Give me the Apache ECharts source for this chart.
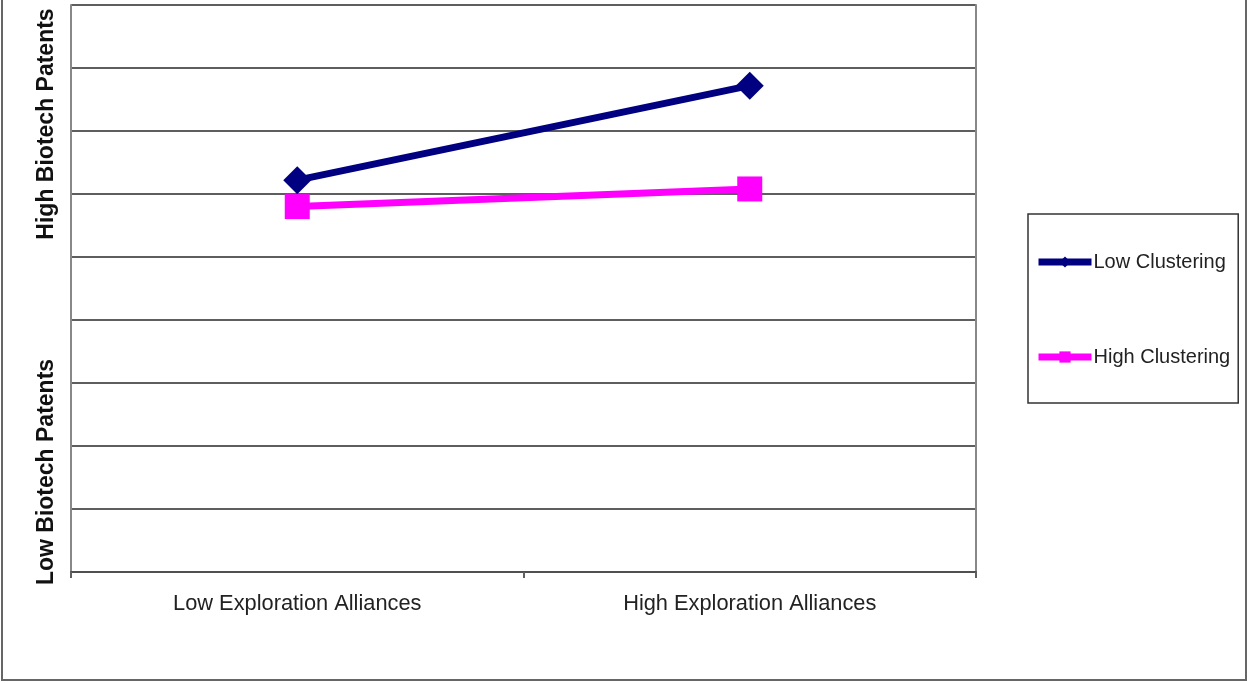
<!DOCTYPE html>
<html>
<head>
<meta charset="utf-8">
<script src="https://cdn.jsdelivr.net/npm/echarts@6/dist/echarts.min.js"></script>
<style>
html,body{margin:0;padding:0;background:#fff;}
#chart{width:1247px;height:683px;}
</style>
</head>
<body>
<div id="chart"></div>
<script>
const categories = ['Low Exploration Alliances', 'High Exploration Alliances'];
const seriesNames = ['Low Clustering', 'High Clustering'];
const lowClustering = [6.22, 7.72];
const highClustering = [5.80, 6.08];
const yAxisNames = ['High Biotech Patents', 'Low Biotech Patents'];

const chart = echarts.init(document.getElementById('chart'));
const FONT = '"Liberation Sans", Arial, sans-serif';

chart.setOption({
  animation: false,
  backgroundColor: '#fff',
  grid: { left: 71, top: 5, right: 271, bottom: 111, containLabel: false },
  xAxis: {
    type: 'category',
    data: categories,
    boundaryGap: true,
    axisLine: { show: true, lineStyle: { color: '#505050', width: 2 } },
    axisTick: { show: true, length: 6, lineStyle: { color: '#606060', width: 2 } },
    axisLabel: { margin: 21, fontSize: 21.8, color: '#222', fontFamily: FONT },
    splitLine: { show: false }
  },
  yAxis: [
    {
      type: 'value', min: 0, max: 9, interval: 1,
      axisLine: { show: true, lineStyle: { color: '#888', width: 2 } },
      axisTick: { show: false },
      axisLabel: { show: false },
      splitLine: { show: true, lineStyle: { color: '#5e5e5e', width: 1.8 } }
    },
    {
      type: 'value', min: 0, max: 9, interval: 1, position: 'right',
      axisLine: { show: true, lineStyle: { color: '#888', width: 2 } },
      axisTick: { show: false },
      axisLabel: { show: false },
      splitLine: { show: false }
    }
  ],
  legend: {
    orient: 'vertical',
    left: 1028, top: 214,
    padding: [38, 8, 36, 7],
    itemGap: 75,
    itemWidth: 53,
    itemHeight: 14,
    borderColor: '#333',
    borderWidth: 1.5,
    backgroundColor: '#fff',
    lineStyle: { width: 7 },
    textStyle: { fontSize: 20, color: '#222', fontFamily: FONT, padding: [0, 0, 0, -3] },
    data: seriesNames
  },
  series: [
    {
      name: seriesNames[0], type: 'line', data: lowClustering,
      symbol: 'diamond', symbolSize: 28,
      lineStyle: { color: '#000080', width: 7 },
      itemStyle: { color: '#000080' }
    },
    {
      name: seriesNames[1], type: 'line', data: highClustering,
      symbol: 'rect', symbolSize: 25,
      lineStyle: { color: '#ff00ff', width: 7 },
      itemStyle: { color: '#ff00ff' }
    }
  ],
  graphic: [
    {
      type: 'polyline', silent: true,
      shape: { points: [[2, -5], [2, 680], [1246, 680], [1246, -5]] },
      style: { stroke: '#666', lineWidth: 2, fill: null }
    },
    {
      type: 'text', x: 47, y: 124, rotation: Math.PI / 2,
      style: { text: yAxisNames[0], font: 'bold 23px ' + FONT, fill: '#111', align: 'center', verticalAlign: 'middle' }
    },
    {
      type: 'text', x: 47, y: 472, rotation: Math.PI / 2,
      style: { text: yAxisNames[1], font: 'bold 23px ' + FONT, fill: '#111', align: 'center', verticalAlign: 'middle' }
    }
  ]
});
</script>
</body>
</html>
